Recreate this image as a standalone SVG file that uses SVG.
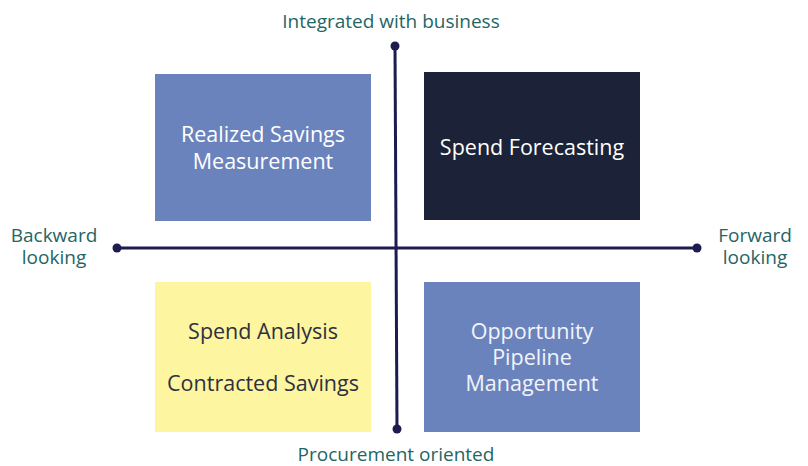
<svg xmlns="http://www.w3.org/2000/svg" width="808" height="466" viewBox="0 0 808 466">
<style>
.box-text{font-family:"Open Sans","DejaVu Sans",sans-serif;font-size:21.5px;text-anchor:middle}
.axis-label{font-family:"Open Sans","Liberation Sans",sans-serif;font-size:19px;fill:#256565;text-anchor:middle}
.axis{stroke:#1e1b4f;stroke-width:3;fill:none}
.dot{fill:#1e1b4f}
</style>
<rect width="808" height="466" fill="#ffffff"/>
<g id="connectors">
<line class="axis" x1="395" y1="46" x2="397" y2="429"/>
<line class="axis" x1="117" y1="248" x2="697" y2="248"/>
<circle class="dot" cx="395" cy="46" r="4.5"/>
<circle class="dot" cx="397" cy="429" r="4.5"/>
<circle class="dot" cx="117" cy="248" r="4.5"/>
<circle class="dot" cx="697" cy="248" r="4.5"/>
</g>
<g id="realized-savings">
<rect x="155" y="74" width="216" height="147" fill="#6b83bd"/>
<text class="box-text" fill="#ffffff" x="263" y="142">Realized Savings</text>
<text class="box-text" fill="#ffffff" x="263" y="169">Measurement</text>
</g>
<g id="spend-forecasting">
<rect x="424" y="72" width="216" height="148" fill="#1c2237"/>
<text class="box-text" fill="#ffffff" x="532" y="155">Spend Forecasting</text>
</g>
<g id="spend-analysis">
<rect x="155" y="282" width="216" height="150" fill="#fdf5a0"/>
<text class="box-text" fill="#2e3040" x="263" y="339">Spend Analysis</text>
<text class="box-text" fill="#2e3040" x="263" y="391">Contracted Savings</text>
</g>
<g id="opportunity-pipeline">
<rect x="424" y="282" width="216" height="150" fill="#6b83bd"/>
<text class="box-text" fill="#f2f4fa" x="532" y="339">Opportunity</text>
<text class="box-text" fill="#f2f4fa" x="532" y="365">Pipeline</text>
<text class="box-text" fill="#f2f4fa" x="532" y="391">Management</text>
</g>
<g id="label-top"><text class="axis-label" x="391" y="28">Integrated with business</text></g>
<g id="label-bottom"><text class="axis-label" x="396" y="461">Procurement oriented</text></g>
<g id="label-left"><text class="axis-label" x="54" y="242">Backward</text><text class="axis-label" x="54" y="264">looking</text></g>
<g id="label-right"><text class="axis-label" x="755" y="242">Forward</text><text class="axis-label" x="755" y="264">looking</text></g>
</svg>
